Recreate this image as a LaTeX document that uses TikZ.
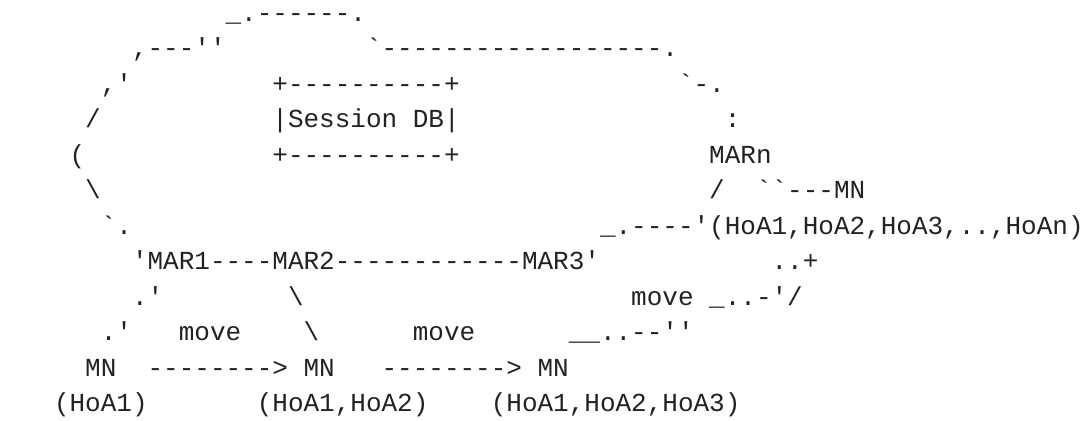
\documentclass[tikz,border=0pt]{standalone}
\usepackage{fontspec}
\setmonofont{Liberation Mono}
\definecolor{ink}{RGB}{34,34,34}
\tikzset{
  txt/.style={anchor=base west, inner sep=0pt, outer sep=0pt,
    font=\ttfamily\fontsize{26pt}{26pt}\selectfont, text=ink},
}
\begin{document}
\begin{tikzpicture}[x=15.6pt,y=-35.46pt]
\fill[white] (0pt,0pt) rectangle (1086pt,-420pt);
\useasboundingbox (0pt,0pt) rectangle (1086pt,-420pt);
\begin{scope}[shift={(54pt,-21.44pt)}]
% row 0
\node[txt] (r0a) at (11,0) {\_.------.};
% row 1
\node[txt] (r1a) at (5,1) {,---''};
\node[txt] (r1b) at (20,1) {`------------------.};
% row 2
\node[txt] (r2a) at (3,2) {,'};
\node[txt] (r2b) at (14,2) {+----------+};
\node[txt] (r2c) at (40,2) {`-.};
% row 3
\node[txt] (r3a) at (2,3) {/};
\node[txt] (r3b) at (14,3) {|Session DB|};
\node[txt] (r3c) at (43,3) {:};
% row 4
\node[txt] (r4a) at (1,4) {(};
\node[txt] (r4b) at (14,4) {+----------+};
\node[txt] (r4c) at (42,4) {MARn};
% row 5
\node[txt] (r5a) at (2,5) {\textbackslash};
\node[txt] (r5b) at (42,5) {/};
\node[txt] (r5c) at (45,5) {``---MN};
% row 6
\node[txt] (r6a) at (3,6) {`.};
\node[txt] (r6b) at (35,6) {\_.----'(HoA1,HoA2,HoA3,..,HoAn)};
% row 7
\node[txt] (r7a) at (5,7) {'MAR1----MAR2------------MAR3'};
\node[txt] (r7b) at (46,7) {..+};
% row 8
\node[txt] (r8a) at (5,8) {.'};
\node[txt] (r8b) at (15,8) {\textbackslash};
\node[txt] (r8c) at (37,8) {move\ \_..-'/};
% row 9
\node[txt] (r9a) at (3,9) {.'};
\node[txt] (r9b) at (8,9) {move};
\node[txt] (r9c) at (16,9) {\textbackslash};
\node[txt] (r9d) at (23,9) {move};
\node[txt] (r9e) at (33,9) {\_\_..--''};
% row 10
\node[txt] (r10a) at (2,10) {MN};
\node[txt] (r10b) at (6,10) {-------->};
\node[txt] (r10c) at (16,10) {MN};
\node[txt] (r10d) at (21,10) {-------->};
\node[txt] (r10e) at (31,10) {MN};
% row 11
\node[txt] (r11a) at (0,11) {(HoA1)};
\node[txt] (r11b) at (13,11) {(HoA1,HoA2)};
\node[txt] (r11c) at (28,11) {(HoA1,HoA2,HoA3)};
\end{scope}
\end{tikzpicture}
\end{document}
